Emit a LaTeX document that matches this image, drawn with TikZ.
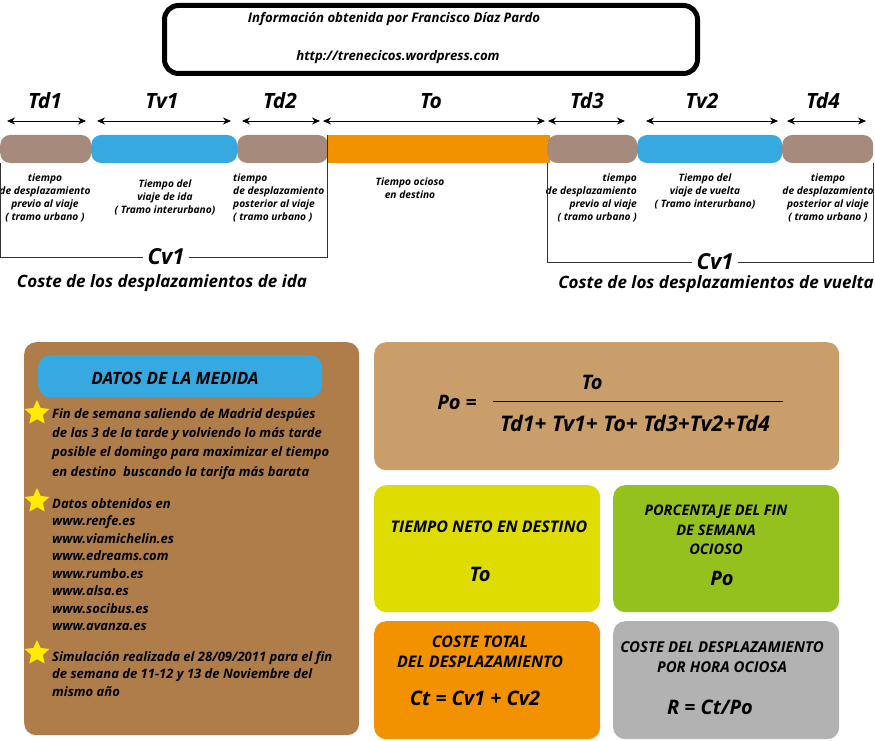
\documentclass[tikz,border=0pt]{standalone}
\usepackage{fontspec}
\setmainfont{Open Sans}
\usetikzlibrary{shapes.geometric,arrows.meta}

\definecolor{barbrown}{RGB}{166,139,124}
\definecolor{barblue}{RGB}{54,169,225}
\definecolor{barorange}{RGB}{243,146,0}
\definecolor{panelbrown}{RGB}{175,125,73}
\definecolor{formbrown}{RGB}{201,158,107}
\definecolor{boxyellow}{RGB}{222,220,0}
\definecolor{boxgreen}{RGB}{149,193,31}
\definecolor{boxgray}{RGB}{178,178,178}
\definecolor{staryellow}{RGB}{255,236,0}

\begin{document}
\begin{tikzpicture}[x=1pt, y=-1pt,
bar/.style={rectangle, rounded corners=10pt, minimum height=28pt, inner sep=0pt, anchor=west},
card/.style={rectangle, rounded corners=12pt, inner sep=0pt, anchor=north west},
tlabel/.style={font=\fontsize{21}{21}\selectfont\bfseries\itshape, inner sep=0pt},
note/.style={font=\fontsize{10.2}{13}\selectfont\bfseries\itshape, inner sep=0pt, align=center},
body/.style={font=\fontsize{13}{19.3}\selectfont\bfseries\itshape, inner sep=0pt, align=left, anchor=north west},
caps/.style={font=\fontsize{#1}{19.5}\selectfont\bfseries\itshape, inner sep=0pt, align=center},
big/.style={font=\fontsize{20}{20}\selectfont\bfseries\itshape, inner sep=0pt},
dimarrow/.style={{Stealth[length=8pt,width=7pt]}-{Stealth[length=8pt,width=7pt]}, thick},
yellowstar/.style={star, star points=5, star point ratio=2.1, fill=staryellow, minimum size=26pt, inner sep=0pt},]

	\useasboundingbox (0,0) rectangle (875,741);

	% cabecera
	\node (info) [draw, line width=5pt, rounded corners=14pt, minimum width=533pt, minimum height=68pt] at (431,39.5) {};
	\node (autor) [font=\fontsize{13.2}{13}\selectfont\bfseries\itshape, inner sep=0pt] at (394,19) {Información obtenida por Francisco Díaz Pardo};
	\node (web) [font=\fontsize{13.2}{13}\selectfont\bfseries\itshape, inner sep=0pt] at (398,57) {http://trenecicos.wordpress.com};

	% tiempos
	\foreach \nm/\xa/\xb/\xl/\lab in {td1/7/86/45/Td1, tv1/97/231/162/Tv1, td2/242/320/280/Td2, to/323/545/431/To, td3/548/625/587/Td3, tv2/646/778/702/Tv2, td4/787/866/823/Td4}{
		\node (\nm) [tlabel] at (\xl,101) {\lab};
		\coordinate (\nm a) at (\xa,121);
		\coordinate (\nm b) at (\xb,121);
		\draw[dimarrow] (\nm a) -- (\nm b);
	}

	% barra
	\node (barTo) [rectangle, fill=barorange, minimum height=28pt, minimum width=223pt, inner sep=0pt, anchor=west] at (327,149) {};
	\node (barTd1) [bar, fill=barbrown, minimum width=91pt] at (0,149) {};
	\node (barTv1) [bar, fill=barblue, minimum width=146pt] at (91,149) {};
	\node (barTd2) [bar, fill=barbrown, minimum width=91pt] at (237,149) {};
	\node (barTd3) [bar, fill=barbrown, minimum width=90pt] at (547,149) {};
	\node (barTv2) [bar, fill=barblue, minimum width=145pt] at (637,149) {};
	\node (barTd4) [bar, fill=barbrown, minimum width=91pt] at (782,149) {};

	\node (nTd1) [note, anchor=north] at (45,174) {tiempo\\de desplazamiento\\previo al viaje\\( tramo urbano )};
	\node (nTv1) [note, anchor=north] at (165,180) {Tiempo del\\viaje de ida\\( Tramo interurbano)};
	\node (nTd2) [note, align=left, anchor=north west] at (233,174) {tiempo\\de desplazamiento\\posterior al viaje\\( tramo urbano )};
	\node (nTo) [note, anchor=north] at (410,178) {Tiempo ocioso\\en destino};
	\node (nTd3) [note, align=right, anchor=north east] at (637,174) {tiempo\\de desplazamiento\\previo al viaje\\( tramo urbano )};
	\node (nTv2) [note, anchor=north] at (705,174) {Tiempo del\\viaje de vuelta\\( Tramo interurbano)};
	\node (nTd4) [note, anchor=north] at (828,174) {tiempo\\de desplazamiento\\posterior al viaje\\( tramo urbano )};

	% costes de ida y vuelta
	\node (cvIda) [big, font=\fontsize{22}{22}\selectfont\bfseries\itshape, fill=white, inner xsep=4pt] at (166,257) {Cv1};
	\node (cvVuelta) [big, font=\fontsize{22}{22}\selectfont\bfseries\itshape, fill=white, inner xsep=4pt] at (715,262) {Cv1};
	\draw[black!80] (barTd1.south west) |- (cvIda.west);
	\draw[black!80] (cvIda.east) -| (barTo.north west);
	\draw[black!80] (barTd3.south west) |- (cvVuelta.west);
	\draw[black!80] (cvVuelta.east) -| (barTd4.south east);
	\node (ida) [font=\fontsize{17}{17}\selectfont\bfseries\itshape, inner sep=0pt] at (162,283) {Coste de los desplazamientos de ida};
	\node (vuelta) [font=\fontsize{17}{17}\selectfont\bfseries\itshape, inner sep=0pt] at (716,284) {Coste de los desplazamientos de vuelta};

	% datos de la medida
	\node (datos) [card, fill=panelbrown, minimum width=335pt, minimum height=393pt] at (24,342) {};
	\node (titulo) [card, fill=barblue, minimum width=284pt, minimum height=42pt] at (38,355) {};
	\node (tituloTxt) [font=\fontsize{17}{17}\selectfont\bfseries\itshape, inner sep=0pt] at (175,378) {DATOS DE LA MEDIDA};

	\node (star1) [yellowstar] at (37,413) {};
	\node (star2) [yellowstar] at (37,501) {};
	\node (star3) [yellowstar] at (37,653) {};

	\node (fin) [body] at (52,408) {Fin de semana saliendo de Madrid despúes\\de las 3 de la tarde y volviendo lo más tarde\\posible el domingo para maximizar el tiempo\\en destino\ \ buscando la tarifa más barata};
	\node (fuentes) [body, font=\fontsize{13}{17.5}\selectfont\bfseries\itshape] at (52,498) {Datos obtenidos en\\www.renfe.es\\www.viamichelin.es\\www.edreams.com\\www.rumbo.es\\www.alsa.es\\www.socibus.es\\www.avanza.es};
	\node (simul) [body, font=\fontsize{13}{17.5}\selectfont\bfseries\itshape] at (52,651) {Simulación realizada el 28/09/2011 para el fin\\de semana de 11-12 y 13 de Noviembre del\\mismo año};

	% formula
	\node (formula) [card, fill=formbrown, minimum width=465pt, minimum height=128pt] at (374,342) {};
	\node (poIgual) [big] at (457,402) {Po =};
	\node (numer) [big] at (592,382) {To};
	\node (denom) [big, font=\fontsize{21.5}{21.5}\selectfont\bfseries\itshape] at (635,423) {Td1+ Tv1+ To+ Td3+Tv2+Td4};
	\draw[thin] (493,401) -- (783,401);

	% resultados
	\node (neto) [card, fill=boxyellow, minimum width=226pt, minimum height=127pt] at (374,485) {};
	\node (porcen) [card, fill=boxgreen, minimum width=226pt, minimum height=127pt] at (613,485) {};
	\node (total) [card, fill=barorange, minimum width=226pt, minimum height=118pt] at (374,621) {};
	\node (hora) [card, fill=boxgray, minimum width=226pt, minimum height=118pt] at (613,621) {};

	\node (netoTxt) [caps=16] at (489,527) {TIEMPO NETO EN DESTINO};
	\node (netoVal) [big] at (480,574) {To};
	\node (porcenTxt) [caps=14.6] at (716,530) {PORCENTAJE DEL FIN\\DE SEMANA\\OCIOSO};
	\node (porcenVal) [big] at (722,578) {Po};
	\node (totalTxt) [caps=16] at (480,652) {COSTE TOTAL\\DEL DESPLAZAMIENTO};
	\node (totalVal) [big] at (475,698) {Ct = Cv1 + Cv2};
	\node (horaTxt) [caps=15] at (722,657) {COSTE DEL DESPLAZAMIENTO\\POR HORA OCIOSA};
	\node (horaVal) [big] at (710,707) {R = Ct/Po};

\end{tikzpicture}
\end{document}
